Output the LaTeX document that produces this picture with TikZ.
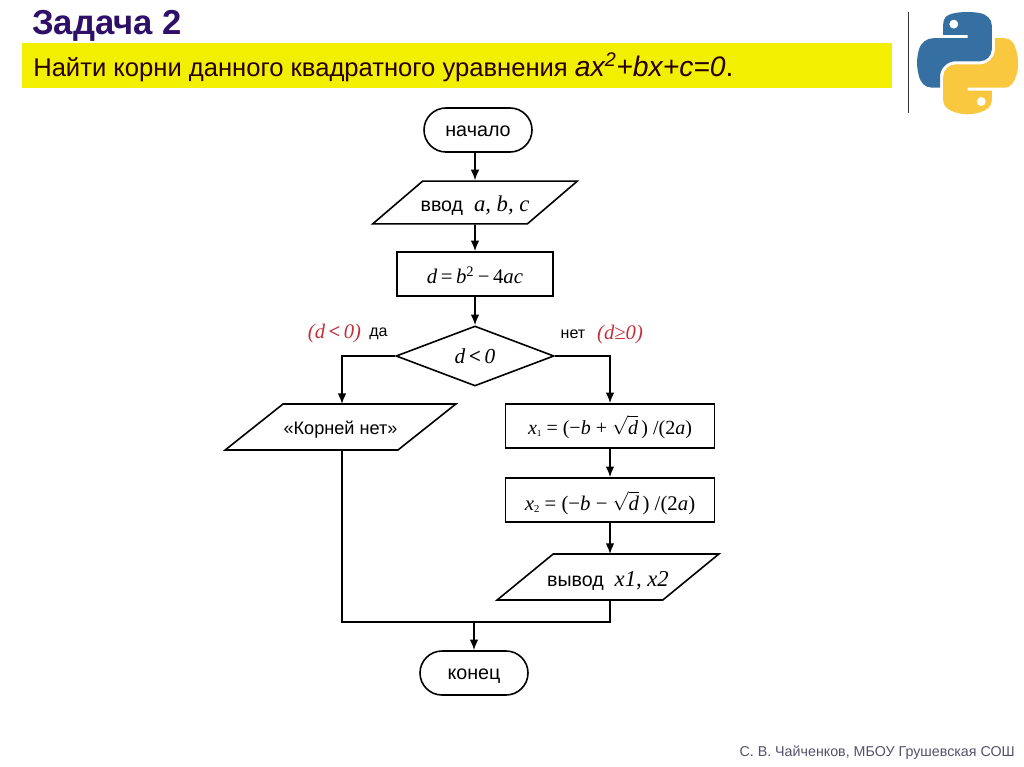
\documentclass[tikz,border=0pt]{standalone}
\usepackage{fontspec}
\setmainfont{Liberation Sans}
\newfontfamily\formfont{Liberation Serif}
\usetikzlibrary{shapes.geometric,arrows.meta}
\definecolor{bar_yellow}{RGB}{243, 239, 0}
\definecolor{head_violet}{RGB}{46, 16, 104}
\definecolor{note_red}{RGB}{196, 48, 58}
\definecolor{foot_gray}{RGB}{84, 80, 106}
\definecolor{py_blue}{RGB}{54, 112, 163}
\definecolor{py_yellow}{RGB}{249, 200, 62}
\newcommand{\fv}[1]{\textit{#1}}
\newcommand{\fsqrt}{$\sqrt{\rule{0pt}{12pt}\hbox{\fv{d}}}$}
\tikzstyle{term}=[rectangle,draw=black,line width=1.2pt,inner sep=0pt,text height=9.75pt,text depth=0pt,
  rounded corners=16.5pt,minimum width=81pt,minimum height=33pt,font=\fontsize{14.8}{16}\selectfont]
\tikzstyle{calc}=[rectangle,draw=black,line width=1.2pt,inner sep=0pt,text height=12pt,text depth=0pt,
  minimum height=33pt,font=\formfont\fontsize{15}{17}\selectfont]
\tikzstyle{cond}=[diamond,draw=black,line width=1.2pt,inner sep=0pt,
  minimum width=118.5pt,minimum height=45pt,font=\formfont\fontsize{16}{18}\selectfont]
\tikzstyle{io}=[trapezium,draw=black,line width=1.2pt,inner sep=0pt,text depth=0pt,
  trapezium stretches body,font=\fontsize{14.7}{16}\selectfont]
\tikzstyle{note}=[inner sep=0pt,text=note_red,font=\formfont\itshape\fontsize{15.5}{17}\selectfont]
\tikzstyle{answer}=[inner sep=0pt,font=\fontsize{12}{14}\selectfont]
\tikzstyle{link}=[draw=black,line width=1.2pt]
\tikzstyle{arrow}=[link,-{Latex[length=8pt,width=6.5pt]}]
\begin{document}
\begin{tikzpicture}[x=0.75pt,y=-0.75pt]
  \useasboundingbox (0,0) rectangle (1024,767);
  % header
  \fill[bar_yellow] (22,43) rectangle (892,88);
  \node [inner sep=0pt,anchor=west,text=head_violet,font=\bfseries\fontsize{26}{28}\selectfont] (head) at (32,26) {Задача 2};
  \node [inner sep=0pt,anchor=west,text=black!85!red,font=\fontsize{19.2}{22}\selectfont] (task) at (33,67)
    {Найти корни данного квадратного уравнения {\fontsize{21.2}{22}\selectfont\textit{ax\textsuperscript{2}+bx+c=0}.}};
  \coordinate (ruletop) at (908.5,12);
  \coordinate (rulebot) at (908.5,113);
  \draw[line width=0.9pt,black!80] (ruletop) -- (rulebot);
  % logo
  \begin{scope}[shift={(917,12)},scale=0.91]
    \fill[py_blue,even odd rule] (54.9,0) .. controls (50.3,0) and (46,0.4) .. (42.1,1.1)
      .. controls (30.8,3.1) and (28.7,7.3) .. (28.7,15) -- (28.7,25.25) -- (55.5,25.25) -- (55.5,28.66) -- (18.64,28.66)
      .. controls (10.85,28.66) and (4.03,33.34) .. (1.89,42.25)
      .. controls (-0.57,52.46) and (-0.68,58.84) .. (1.89,69.5)
      .. controls (3.8,77.44) and (8.35,83.09) .. (16.14,83.09) -- (25.36,83.09) -- (25.36,70.84)
      .. controls (25.36,62) and (33.02,54.19) .. (42.11,54.19) -- (68.89,54.19)
      .. controls (76.34,54.19) and (82.3,48.05) .. (82.3,40.56) -- (82.3,15.03)
      .. controls (82.3,7.77) and (76.17,2.31) .. (68.89,1.09)
      .. controls (64.28,0.33) and (59.5,0) .. (54.9,0) -- cycle
      (40.42,13.34) circle [radius=5.03];
    \fill[py_yellow,even odd rule] (85.64,28.66) -- (85.64,40.56)
      .. controls (85.64,49.79) and (77.81,57.56) .. (68.89,57.56) -- (42.11,57.56)
      .. controls (34.77,57.56) and (28.7,63.84) .. (28.7,71.19) -- (28.7,96.72)
      .. controls (28.7,103.99) and (35.02,108.26) .. (42.11,110.35)
      .. controls (50.59,112.84) and (58.73,113.29) .. (68.89,110.35)
      .. controls (75.64,108.39) and (82.29,104.46) .. (82.29,96.72) -- (82.29,86.5) -- (55.51,86.5) -- (55.51,83.09) -- (95.7,83.09)
      .. controls (103.49,83.09) and (106.4,77.66) .. (109.11,69.5)
      .. controls (111.91,61.1) and (111.86,53.03) .. (109.11,42.25)
      .. controls (107.18,34.49) and (103.5,28.66) .. (95.7,28.66) -- cycle
      (70.57,98.4) circle [radius=5.03];
  \end{scope}
  % flowchart
  \node [style=term] (start) at (478,130) {начало};
  \node [style=io,inner xsep=-1.5pt,trapezium left angle=20.8,trapezium right angle=159.2,minimum width=150pt,minimum height=32pt,text height=14.2pt] (input) at (475,202.5)
    {ввод\; {\formfont\fontsize{17}{19}\selectfont\itshape a, b, c}};
  \node [style=calc,minimum width=117pt,text height=13.5pt,font=\formfont\fontsize{15.6}{17}\selectfont] (disc) at (475,274) {\fv{d}\,=\,\fv{b}\textsuperscript{2}\,−\,4\fv{ac}};
  \node [style=cond] (test) at (475,356) {\raisebox{-2.5pt}{\fv{d}\,\textbf{<}\,\fv{0}}};
  \node [style=io,trapezium left angle=13.6,trapezium right angle=166.4,minimum width=173pt,minimum height=34.5pt,
    text height=10.5pt,font=\fontsize{13.6}{15}\selectfont] (noroot) at (340.5,427)
    {«Корней нет»};
  \node [style=calc,minimum width=156.5pt] (root1) at (610,426)
    {\fv{x}\raisebox{-2pt}{\scriptsize 1} = (−\fv{b} + \fsqrt\,) /(2\fv{a})};
  \node [style=calc,minimum width=156.5pt,text height=15pt,font=\formfont\fontsize{15.6}{17}\selectfont] (root2) at (610,500)
    {\fv{x}\raisebox{-2pt}{\footnotesize 2} = (−\fv{b} − \fsqrt\,) /(2\fv{a})};
  \node [style=io,inner xsep=-4.5pt,trapezium left angle=17.8,trapezium right angle=162.2,minimum width=157.5pt,minimum height=34.5pt,text height=13.5pt] (output) at (608,577)
    {вывод\; {\formfont\fontsize{17}{19}\selectfont\itshape x1, x2}};
  \node [style=term] (stop) at (474,673) {конец};
  \node [style=note] (yesnote) at (334.5,334) {(\fv{d}\,\textbf{<}\,0)};
  \node [style=answer] (yes) at (378.5,334) {да};
  \node [style=answer] (no) at (573,334) {нет};
  \node [style=note] (nonote) at (620,334.5) {(\fv{d}≥0)};
  \coordinate (noroot_in) at (342,404);
  \coordinate (noroot_out) at (342,450);
  \coordinate (join_left) at (342,622);
  \coordinate (join_right) at (610,622);
  \coordinate (output_out) at (610,600);
  \coordinate (output_in) at (610,554);
  \coordinate (join_mid) at (474,622);
  \draw [style=arrow] (input.north |- start.south) -- (input.north);
  \draw [style=arrow] (input.south) -- (disc.north);
  \draw [style=arrow] (disc.south) -- (test.north);
  \draw [style=arrow] (test.west) -| (noroot_in);
  \draw [style=arrow] (test.east) -| (root1.north);
  \draw [style=arrow] (root1.south) -- (root2.north);
  \draw [style=arrow] (root2.south) -- (output_in);
  \draw [style=link] (noroot_out) -- (join_left) -- (join_right) -- (output_out);
  \draw [style=arrow] (join_mid) -- (stop.north);
  % footer
  \node [inner sep=0pt,anchor=east,text=foot_gray,font=\fontsize{10.7}{12}\selectfont] (foot) at (1015,753) {С. В. Чайченков, МБОУ Грушевская СОШ};
\end{tikzpicture}
\end{document}
